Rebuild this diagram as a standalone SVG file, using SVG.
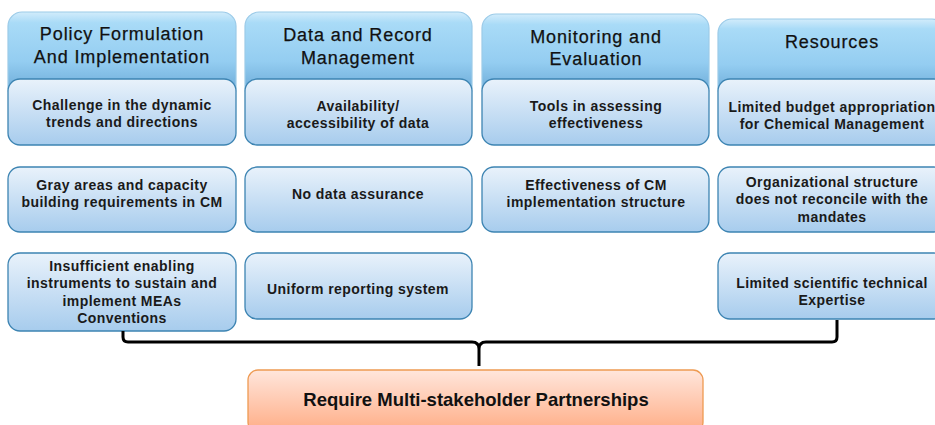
<svg xmlns="http://www.w3.org/2000/svg" width="935" height="425" viewBox="0 0 935 425">
<defs>
<linearGradient id="gHead" x1="0" y1="0" x2="0" y2="1">
<stop offset="0" stop-color="#d2ecfb"/>
<stop offset="0.12" stop-color="#a9dbf7"/>
<stop offset="0.55" stop-color="#94cdf1"/>
<stop offset="1" stop-color="#5f9fcf"/>
</linearGradient>
<linearGradient id="gSub" x1="0" y1="0" x2="0" y2="1">
<stop offset="0" stop-color="#e9f2fb"/>
<stop offset="1" stop-color="#a7cced"/>
</linearGradient>
<linearGradient id="gOr" x1="0" y1="0" x2="0" y2="1">
<stop offset="0" stop-color="#ffe6dc"/>
<stop offset="1" stop-color="#ffad86"/>
</linearGradient>
</defs>
<style>
.head{fill:url(#gHead);stroke:#9ccbe8;stroke-width:1.2}
.sub{fill:url(#gSub);stroke:#3d84b2;stroke-width:1.3}
.ht{font-family:"Liberation Sans",Arial,sans-serif;font-size:18px;letter-spacing:0.9px;fill:#111;text-anchor:middle;stroke:#111;stroke-width:0.25}
.st{font-family:"Liberation Sans",Arial,sans-serif;font-size:14px;letter-spacing:0.45px;font-weight:bold;fill:#1a1a1a;text-anchor:middle}
.or{fill:url(#gOr);stroke:#ee9a52;stroke-width:1.3}
.ot{font-family:"Liberation Sans",Arial,sans-serif;font-size:18.5px;font-weight:bold;fill:#111;text-anchor:middle}
.conn{fill:none;stroke:#000;stroke-width:3;stroke-linejoin:round}
</style>
<rect width="935" height="425" fill="#fff"/>

<g id="col1">
<rect class="head" x="8" y="12" width="228" height="90" rx="14"/>
<text class="ht" x="122" y="40">Policy Formulation</text>
<text class="ht" x="122" y="63">And Implementation</text>
</g>
<g id="col2">
<rect class="head" x="245" y="12" width="227" height="90" rx="14"/>
<text class="ht" x="358" y="41">Data and Record</text>
<text class="ht" x="358" y="64">Management</text>
</g>
<g id="col3">
<rect class="head" x="482" y="14" width="227" height="88" rx="14"/>
<text class="ht" x="596" y="43">Monitoring and</text>
<text class="ht" x="596" y="65">Evaluation</text>
</g>
<g id="col4">
<rect class="head" x="718" y="19" width="228" height="83" rx="14"/>
<text class="ht" x="832" y="48">Resources</text>
</g>

<g id="c1r1">
<rect class="sub" x="8" y="79" width="228" height="66" rx="12"/>
<text class="st" x="122" y="110">Challenge in the dynamic</text>
<text class="st" x="122" y="127">trends and directions</text>
</g>
<g id="c2r1">
<rect class="sub" x="245" y="79" width="227" height="66" rx="12"/>
<text class="st" x="358" y="111">Availability/</text>
<text class="st" x="358" y="128">accessibility of data</text>
</g>
<g id="c3r1">
<rect class="sub" x="482" y="79" width="227" height="66" rx="12"/>
<text class="st" x="596" y="111">Tools in assessing</text>
<text class="st" x="596" y="128">effectiveness</text>
</g>
<g id="c4r1">
<rect class="sub" x="718" y="79" width="228" height="66" rx="12"/>
<text class="st" x="832" y="112">Limited budget appropriation</text>
<text class="st" x="832" y="129">for Chemical Management</text>
</g>

<g id="c1r2">
<rect class="sub" x="8" y="167" width="228" height="65" rx="12"/>
<text class="st" x="122" y="190">Gray areas and capacity</text>
<text class="st" x="122" y="207">building requirements in CM</text>
</g>
<g id="c2r2">
<rect class="sub" x="245" y="167" width="227" height="65" rx="12"/>
<text class="st" x="358" y="199">No data assurance</text>
</g>
<g id="c3r2">
<rect class="sub" x="482" y="167" width="227" height="65" rx="12"/>
<text class="st" x="596" y="190">Effectiveness of CM</text>
<text class="st" x="596" y="207">implementation structure</text>
</g>
<g id="c4r2">
<rect class="sub" x="718" y="167" width="228" height="65" rx="12"/>
<text class="st" x="832" y="187">Organizational structure</text>
<text class="st" x="832" y="204">does not reconcile with the</text>
<text class="st" x="832" y="222">mandates</text>
</g>

<g id="c1r3">
<rect class="sub" x="8" y="253" width="228" height="78" rx="12"/>
<text class="st" x="122" y="271">Insufficient enabling</text>
<text class="st" x="122" y="288">instruments to sustain and</text>
<text class="st" x="122" y="306">implement MEAs</text>
<text class="st" x="122" y="323">Conventions</text>
</g>
<g id="c2r3">
<rect class="sub" x="245" y="253" width="227" height="66" rx="12"/>
<text class="st" x="358" y="294">Uniform reporting system</text>
</g>
<g id="c4r3">
<rect class="sub" x="718" y="253" width="228" height="66" rx="12"/>
<text class="st" x="832" y="288">Limited scientific technical</text>
<text class="st" x="832" y="305">Expertise</text>
</g>

<g id="connectors">
<path class="conn" d="M123,331 V337 Q123,342 128,342 H472 Q479,342 479,349 V366 M479,349 Q479,342 486,342 H832 Q837,342 837,337 V320"/>
</g>

<g id="result">
<rect class="or" x="248" y="370" width="455" height="62" rx="10"/>
<text class="ot" x="476" y="406">Require Multi-stakeholder Partnerships</text>
</g>
</svg>
